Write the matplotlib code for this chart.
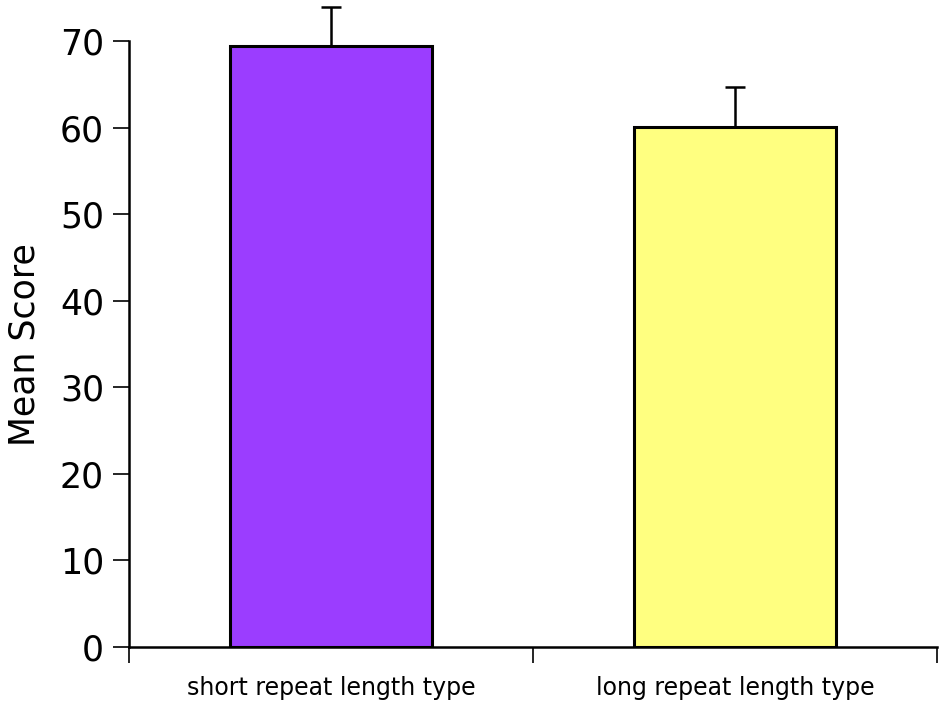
import matplotlib
matplotlib.use('Agg')
import matplotlib.pyplot as plt
import numpy as np

# values
categories = ['short repeat length type', 'long repeat length type']
means = [69.4, 60.1]
err_up = [4.6, 4.6]
bar_colors = ['#9b3dff', '#ffff80']
y_ticks = [0, 10, 20, 30, 40, 50, 60, 70]

plt.rcParams['font.family'] = ['DejaVu Sans']

fig = plt.figure(figsize=(9.45, 7.08), dpi=100)
ax = fig.add_axes([0.1365, 0.0862, 0.855, 0.8555])

x = np.arange(len(categories)) + 0.5
ax.bar(x, means, width=0.5, color=bar_colors, edgecolor='black',
       linewidth=2.2, zorder=2)
ax.errorbar(x, means, yerr=[np.zeros(len(means)), err_up], fmt='none',
            ecolor='black', elinewidth=1.8, capsize=7.2, capthick=1.8,
            clip_on=False, zorder=3)

ax.set_xlim(0, 2)
ax.set_ylim(0, 70)
ax.spines['top'].set_visible(False)
ax.spines['right'].set_visible(False)
ax.spines['left'].set_linewidth(1.8)
ax.spines['bottom'].set_linewidth(1.8)
ax.spines['left'].set_bounds(0, 70)

ax.set_yticks(y_ticks)
ax.tick_params(axis='y', direction='out', length=11.5, width=1.2,
               labelsize=25, pad=6.5)

# major x ticks as separators, labels on minor ticks
ax.set_xticks([0, 1, 2])
ax.set_xticklabels([])
ax.set_xticks(x, minor=True)
ax.set_xticklabels(categories, minor=True)
ax.tick_params(axis='x', which='major', direction='out', length=11.5, width=1.2)
ax.tick_params(axis='x', which='minor', length=0, labelsize=17, pad=21)

ax.set_ylabel('Mean Score', fontsize=25, labelpad=13)

fig.savefig('out.png', dpi=100)
